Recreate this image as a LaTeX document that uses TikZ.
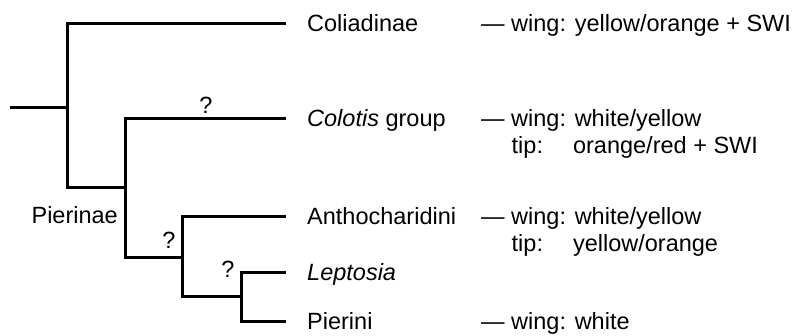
\documentclass[tikz,border=0pt]{standalone}
\usepackage{fontspec}
\setmainfont{Liberation Sans}
\usetikzlibrary{positioning}

\newlength{\winglen}
\newcommand{\tiprow}[1]{\makebox[\winglen][l]{tip:}#1}

\begin{document}
\fontsize{23.5}{27}\selectfont
\settowidth{\winglen}{wing:\ }
\begin{tikzpicture}[
    x=1pt, y=-1pt,
    font=\fontsize{23.5}{27}\selectfont,
    branch/.style={line width=3pt, line join=miter},
    taxon/.style={inner sep=0pt, text height=17pt, text depth=0pt},
    trait/.style={inner sep=0pt, anchor=west, text height=17pt, text depth=0pt},
    qmark/.style={inner sep=0pt, anchor=base}
]
  \useasboundingbox (0,0) rectangle (795,335);

  % Tree
  \coordinate (root) at (10,107);
  \coordinate (n1) at (67,107);
  \coordinate (n2) at (125,187);
  \coordinate (n3) at (182,257);
  \coordinate (n4) at (241,296);
  \coordinate (t1) at (286,23);
  \coordinate (t2) at (286,118);
  \coordinate (t3) at (286,216);
  \coordinate (t4) at (286,272);
  \coordinate (t5) at (286,321);

  % Taxa
  \node[taxon, right=21pt of t1] (coliadinae) {Coliadinae};
  \node[taxon, right=21pt of t2] (colotis) {\textit{Colotis} group};
  \node[taxon, right=21pt of t3] (antho) {Anthocharidini};
  \node[taxon, right=21pt of t4] (leptosia) {\textit{Leptosia}};
  \node[taxon, right=21pt of t5] (pierini) {Pierini};

  % Colours
  \node[trait] (coliadinae-w) at (481,23) {— wing: yellow/orange + SWI};
  \node[trait] (colotis-w) at (481,118) {— wing: white/yellow};
  \node[trait] (colotis-t) at (511.5,145) {\tiprow{orange/red + SWI}};
  \node[trait] (antho-w) at (481,216) {— wing: white/yellow};
  \node[trait] (antho-t) at (511.5,243) {\tiprow{yellow/orange}};
  \node[trait] (pierini-w) at (481,321) {— wing: white};

  % Clade labels
  \node[inner sep=0pt, anchor=base east] (pierinae) at (118,223) {Pierinae};
  \node[qmark] (q1) at (206,113) {?};
  \node[qmark] (q2) at (169,248) {?};
  \node[qmark] (q3) at (228,277) {?};

  % Branches
  \draw[branch] (root) -- (n1);
  \draw[branch] (t1) -| (n1) |- (n2);
  \draw[branch] (t2) -| (n2) |- (n3);
  \draw[branch] (t3) -| (n3) |- (n4);
  \draw[branch] (t4) -| (n4) |- (t5);
\end{tikzpicture}
\end{document}
